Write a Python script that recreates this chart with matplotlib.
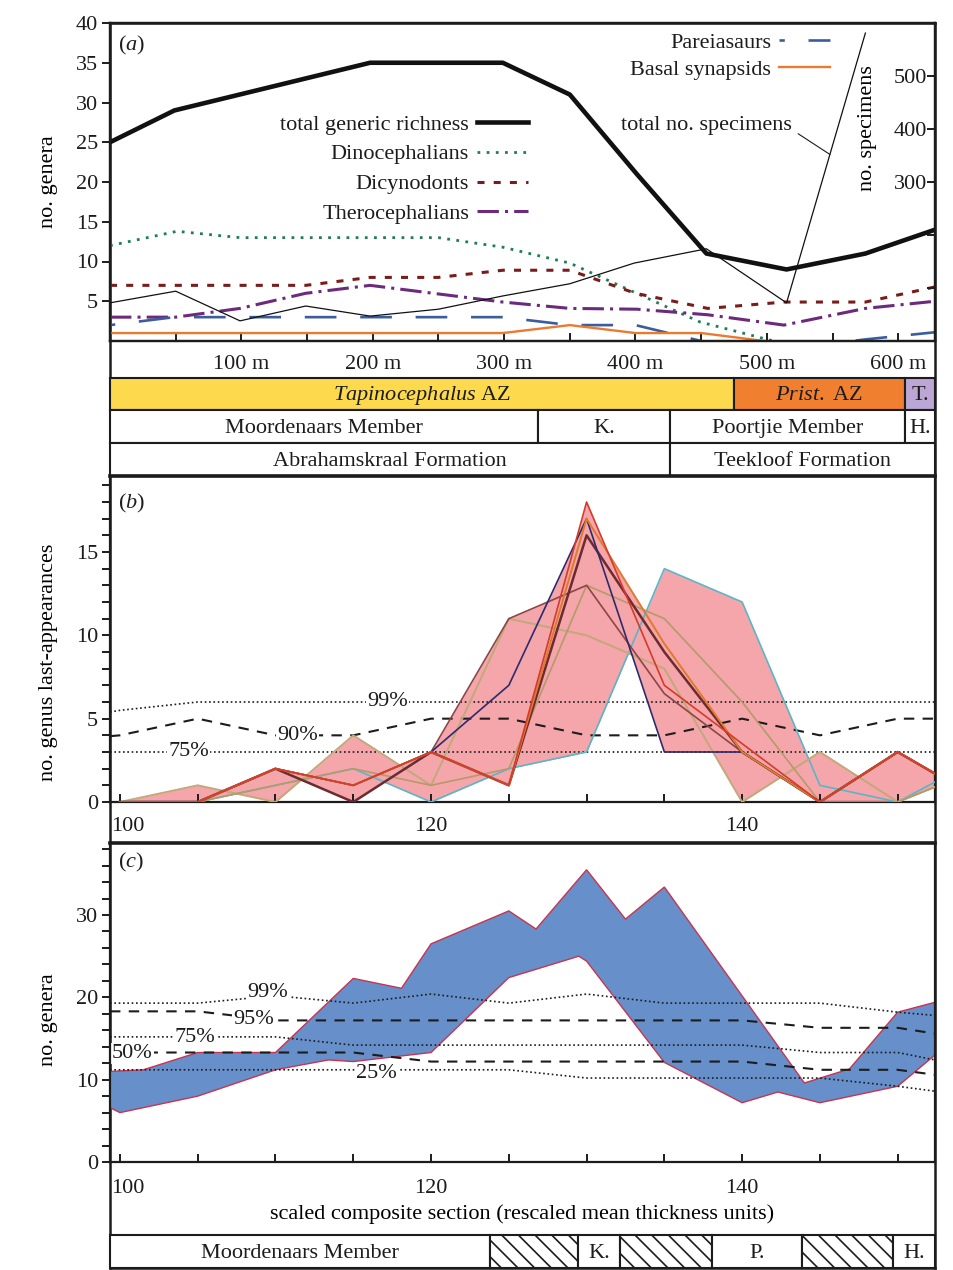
import numpy as np
import matplotlib
matplotlib.use('Agg')
import matplotlib.pyplot as plt
from matplotlib.transforms import ScaledTranslation

INK = '#1c1c1c'
FS = 16
plt.rcParams['font.family'] = ['Liberation Serif', 'DejaVu Serif']
plt.rcParams['mathtext.fontset'] = 'custom'
plt.rcParams['mathtext.rm'] = 'Liberation Serif'
plt.rcParams['mathtext.it'] = 'Liberation Serif:italic'
plt.rcParams['font.size'] = FS
plt.rcParams['text.color'] = INK
plt.rcParams['axes.edgecolor'] = INK
plt.rcParams['axes.linewidth'] = 1.6
plt.rcParams['xtick.color'] = INK
plt.rcParams['ytick.color'] = INK
plt.rcParams['hatch.linewidth'] = 1.2
plt.rcParams['hatch.color'] = INK

# ---------------- (a) richness through the section (metres) ----------------
rich_x = [0, 49, 198, 299, 350, 401, 454, 515, 575, 628]
rich_y = [25, 29, 35, 35, 31, 21, 11, 9, 11, 14]
dino_x = [0, 51, 99, 250, 299, 350, 449, 505]
dino_y = [12, 13.8, 13, 13, 11.8, 9.8, 2.4, 0]
dicy_x = [0, 149, 198, 250, 299, 350, 400, 455, 513, 575, 628]
dicy_y = [7, 7, 8, 8, 8.9, 8.9, 6, 4.1, 4.9, 4.9, 6.8]
ther_x = [0, 50, 99, 149, 198, 299, 350, 401, 455, 513, 575, 628]
ther_y = [3, 3, 4.1, 6, 7, 4.9, 4.1, 4, 3.3, 2, 4.1, 5]
pare_x = [0, 49, 299, 350, 400, 455, 515, 575, 628]
pare_y = [2, 3, 3, 2, 2, -0.2, -1, 0.2, 1.1]
basal_x = [0, 299, 350, 400, 450, 498]
basal_y = [1, 1, 2, 1, 1, 0]
spec_x = [0, 50, 99, 149, 198, 250, 299, 350, 399, 454, 515, 575]
spec_y = [72, 94, 38, 66, 47, 60, 85, 108, 147, 174, 72, 581]

az_edges = [0, 475, 605, 628]
az_names = [r'$\it{Tapinocephalus}$ AZ', r'$\it{Prist.}\ \mathrm{AZ}$', 'T.']
az_colors = ['#fdd94e', '#f08030', '#bba6d6']
mem_edges = [0, 326, 426, 605, 628]
mem_names = ['Moordenaars Member', 'K.', 'Poortjie Member', 'H.']
form_edges = [0, 426, 628]
form_names = ['Abrahamskraal Formation', 'Teekloof Formation']

# ---------------- (b) last appearances (rescaled units) ----------------
b_x = [100, 105, 110, 115, 120, 125, 130, 135, 140, 145, 150, 152.4]
b_series = {
    'cyan':   ([0, 0, 1, 2, 0, 2, 3, 14, 12, 1, 0, 1.2], '#5bb5c8', 1.2),
    'tanA':   ([0, 1, 0, 4, 1, 11, 10, 8, 0, 3, 0, 0.9], '#c2a87a', 1.4),
    'tanB':   ([0, 0, 1, 2, 1, 2, 13, 11, 6, 0, 0, 0.9], '#b59a6a', 1.2),
    'brown':  ([0, 0, 2, 1, 3, 11, 13, 6.5, 3, 0, 3, 1.7], '#8c4646', 1.2),
    'maroon': ([0, 0, 2, 0, 3, 1, 16, 9, 3, 0, 3, 1.7], '#6b2b30', 1.8),
    'navy':   ([0, 0, 2, 1, 3, 7, 17, 3, 3, 0, 3, 1.7], '#2e2a6e', 1.2),
    'orange': ([0, 0, 2, 1, 3, 1, 17, 9.5, 3, 0, 3, 1.7], '#e07a2c', 1.4),
    'red':    ([0, 0, 2, 1, 3, 1, 18, 7, 3.5, 0, 3, 1.7], '#d63a2a', 1.2),
}
b_pct_x = [99.36, 100, 105, 110, 115, 120, 125, 130, 135, 140, 145, 150, 152.4]
b_p99 = [5.4, 5.5, 6, 6, 6, 6, 6, 6, 6, 6, 6, 6, 6]
b_p90 = [3.95, 4, 5, 4, 4, 5, 5, 4, 4, 5, 4, 5, 5]
b_p75 = [3] * 13

# ---------------- (c) richness (rescaled units) ----------------
up_x = [99.36, 101.5, 105, 110, 115, 118.1, 120, 125, 126.75, 130, 132.5, 135, 144, 146.9, 150, 152.4]
up_y = [11, 11.2, 13.3, 13.3, 22.3, 21.1, 26.5, 30.5, 28.3, 35.5, 29.5, 33.4, 9.6, 11.3, 18.2, 19.4]
lo_x = [99.36, 100, 105, 110, 113.4, 115, 120, 125, 129.5, 130, 135, 140, 142.3, 145, 150, 152.4]
lo_y = [6.6, 6.0, 8.0, 11.2, 12.4, 12.2, 13.3, 22.4, 25, 24.4, 12.1, 7.2, 8.5, 7.2, 9.2, 13.0]
c_pct_x = [99.36, 100, 105, 110, 115, 120, 125, 130, 135, 140, 145, 150, 152.4]
c_p99 = [19.3, 19.3, 19.3, 20.2, 19.3, 20.4, 19.3, 20.4, 19.3, 19.3, 19.3, 18.2, 17.8]
c_p95 = [18.3, 18.3, 18.3, 17.2, 17.2, 17.2, 17.2, 17.2, 17.2, 17.2, 16.3, 16.3, 15.6]
c_p75 = [15.2, 15.2, 15.2, 15.2, 14.2, 14.2, 14.2, 14.2, 14.2, 14.2, 13.3, 13.3, 12.4]
c_p50 = [13.3, 13.3, 13.3, 13.3, 13.3, 12.2, 12.2, 12.2, 12.2, 12.2, 11.2, 11.2, 10.6]
c_p25 = [11.2, 11.2, 11.2, 11.2, 11.2, 11.2, 11.2, 10.2, 10.2, 10.2, 10.2, 9.2, 8.6]

low_edges = [99.36, 123.8, 129.45, 132.15, 138.07, 143.86, 149.7, 152.4]
low_names = ['Moordenaars Member', '', 'K.', '', 'P.', '', 'H.']
low_hatch = [None, '\\\\', None, '\\\\', None, '\\\\', None]

W, H = 954, 1270
fig = plt.figure(figsize=(W / 100, H / 100), dpi=100)


def add_ax(x0, y0, x1, y1):
    ax = fig.add_axes([x0 / W, 1 - y1 / H, (x1 - x0) / W, (y1 - y0) / H])
    ax.patch.set_visible(False)
    return ax


def strata(ax, edges, names, colors=None, hatches=None, xlim=None):
    for i, name in enumerate(names):
        fc = colors[i] if colors else 'white'
        hatch = hatches[i] if hatches else None
        ax.barh(0.5, edges[i + 1] - edges[i], left=edges[i], height=1, color=fc,
                edgecolor=INK, linewidth=1.5, hatch=hatch, clip_on=False)
        if name:
            ax.text((edges[i] + edges[i + 1]) / 2, 0.45, name, ha='center', va='center')
    ax.set_xlim(xlim)
    ax.set_ylim(0, 1)
    ax.axis('off')


dotted = (0, (1, 1.6))
dashed = (0, (5, 4))

# outer frame
frame = add_ax(110, 23, 935, 1268)
frame.set_xticks([])
frame.set_yticks([])
for s in frame.spines.values():
    s.set_linewidth(1.8)

# ================= panel (a) =================
XA = (0, 628)
ax_a = add_ax(110, 23, 935, 341)
h_rich, = ax_a.plot(rich_x, rich_y, color='#111111', lw=3.3, label='total generic richness')
h_dino, = ax_a.plot(dino_x, dino_y, color='#1f7d52', lw=2.0, linestyle=(0, (1, 2.3)),
                    label='Dinocephalians')
h_dicy, = ax_a.plot(dicy_x, dicy_y, color='#7a1c1c', lw=2.2, linestyle=(0, (2.3, 3)),
                    label='Dicynodonts')
h_ther, = ax_a.plot(ther_x, ther_y, color='#6c2a7c', lw=2.2, linestyle=(0, (7, 2, 1, 2)),
                    label='Therocephalians')
h_pare, = ax_a.plot(pare_x, pare_y, color='#3b5c9e', lw=1.9, linestyle=(10, (12, 9)),
                    label='Pareiasaurs')
h_basal, = ax_a.plot(basal_x, basal_y, color='#ea7a30', lw=1.7, label='Basal synapsids')
ax_a.set_xlim(XA)
ax_a.set_ylim(0, 40)
ax_a.set_yticks(np.arange(5, 41, 5))
ax_a.tick_params(axis='y', direction='out', length=5.5, width=1.4, pad=3, labelsize=FS)
ax_a.set_xticks(np.arange(50, 601, 50))
ax_a.set_xticklabels([f'{v} m' if v % 100 == 0 else '' for v in range(50, 601, 50)])
ax_a.tick_params(axis='x', direction='in', length=6, width=1.4, pad=10, labelsize=FS)
ax_a.set_ylabel('no. genera', fontsize=FS)
ax_a.yaxis.set_label_coords(-0.063, 0.5)
ax_a.text(0.01, 0.93, r'($\it{a}$)', transform=ax_a.transAxes, ha='left', va='center')

leg1 = ax_a.legend(handles=[h_rich, h_dino, h_dicy, h_ther], loc='upper right',
                   bbox_to_anchor=((528 - 110) / 825, (341 - 114) / 318),
                   markerfirst=False, frameon=False, handlelength=2.3, handletextpad=0.35,
                   labelspacing=0.42, borderpad=0, borderaxespad=0, fontsize=FS)
ax_a.add_artist(leg1)
ax_a.legend(handles=[h_pare, h_basal], loc='upper right',
            bbox_to_anchor=((830 - 110) / 825, (341 - 32) / 318),
            markerfirst=False, frameon=False, handlelength=2.3, handletextpad=0.35,
            labelspacing=0.3, borderpad=0, borderaxespad=0, fontsize=FS)

ax2 = ax_a.twinx()
ax2.plot(spec_x, spec_y, color='#111111', lw=0.9)
ax2.set_ylim(0, 600)
ax2.set_xlim(XA)
ax2.set_yticks([100, 200, 300, 400, 500])
ax2.set_yticklabels(['', '', '300', '400', '500'])
ax2.tick_params(axis='y', direction='in', length=6, width=1.4, pad=-5.5, labelsize=FS)
for t in ax2.get_yticklabels():
    t.set_horizontalalignment('right')
ax2.set_ylabel('no. specimens', fontsize=FS)
ax2.yaxis.set_label_coords(0.907, 0.67)
ax2.annotate('total no. specimens', xy=(548, 352), xytext=(454, 406), textcoords='data',
             ha='center', va='center', fontsize=FS,
             arrowprops=dict(arrowstyle='-', lw=0.8, color=INK, relpos=(1.0, 0.3),
                             shrinkA=3, shrinkB=0))

# strata bars
strata(add_ax(110, 378, 935, 410), az_edges, az_names, colors=az_colors, xlim=XA)
strata(add_ax(110, 410, 935, 443), mem_edges, mem_names, xlim=XA)
strata(add_ax(110, 443, 935, 476), form_edges, form_names, xlim=XA)

XB = (99.36, 152.4)
shift = ScaledTranslation(0.08, 0, fig.dpi_scale_trans)

# ================= panel (b) =================
ax_b = add_ax(110, 476, 935, 802)
xf = np.linspace(b_x[0], b_x[-1], 2000)
curves = np.array([np.interp(xf, b_x, v[0]) for v in b_series.values()])
ax_b.fill_between(xf, curves.min(axis=0), curves.max(axis=0), color='#f4a6aa', lw=0, zorder=1)
ax_b.plot(b_pct_x, b_p99, color=INK, lw=1.2, linestyle=dotted, zorder=2)
ax_b.plot(b_pct_x, b_p90, color=INK, lw=1.5, linestyle=dashed, zorder=2)
ax_b.plot(b_pct_x, b_p75, color=INK, lw=1.2, linestyle=dotted, zorder=2)
for vals, col, lw in b_series.values():
    ax_b.plot(b_x, vals, color=col, lw=lw, zorder=3)
box = dict(fc='white', ec='none', pad=1)
ax_b.text(117.2, 6, '99%', ha='center', va='center', bbox=box, zorder=2.5)
ax_b.text(111.4, 4, '90%', ha='center', va='center', bbox=box, zorder=2.5)
ax_b.text(104.4, 3, '75%', ha='center', va='center', bbox=box, zorder=2.5)
ax_b.set_xlim(XB)
ax_b.set_ylim(0, 19.56)
ax_b.set_yticks([0, 5, 10, 15])
ax_b.set_yticks(np.arange(0, 20, 1), minor=True)
ax_b.tick_params(axis='y', which='both', direction='out', length=5.5, width=1.4, pad=3, labelsize=FS)
ax_b.set_xticks(np.arange(100, 151, 5))
ax_b.set_xticklabels(['100', '', '', '', '120', '', '', '', '140', '', ''])
ax_b.tick_params(axis='x', direction='in', length=6, width=1.4, pad=11, labelsize=FS)
ax_b.spines['top'].set_linewidth(2.6)
ax_b.set_ylabel('no. genus last-appearances', fontsize=FS)
ax_b.yaxis.set_label_coords(-0.063, 0.43)
ax_b.text(0.01, 0.917, r'($\it{b}$)', transform=ax_b.transAxes, ha='left', va='center')
lab = ax_b.get_xticklabels()[0]
lab.set_transform(lab.get_transform() + shift)

# ================= panel (c) =================
ax_c = add_ax(110, 843, 935, 1162)
ax_c.fill(np.r_[up_x, lo_x[::-1]], np.r_[up_y, lo_y[::-1]], facecolor='#678fca',
          edgecolor='#c8344e', lw=1.0, zorder=1)
ax_c.plot(c_pct_x, c_p99, color=INK, lw=1.2, linestyle=dotted, zorder=2)
ax_c.plot(c_pct_x, c_p95, color=INK, lw=1.5, linestyle=dashed, zorder=2)
ax_c.plot(c_pct_x, c_p75, color=INK, lw=1.2, linestyle=dotted, zorder=2)
ax_c.plot(c_pct_x, c_p50, color=INK, lw=1.5, linestyle=dashed, zorder=2)
ax_c.plot(c_pct_x, c_p25, color=INK, lw=1.2, linestyle=dotted, zorder=2)
ax_c.text(109.5, 20.6, '99%', ha='center', va='center', bbox=box, zorder=2.5)
ax_c.text(108.6, 17.3, '95%', ha='center', va='center', bbox=box, zorder=2.5)
ax_c.text(104.8, 15.1, '75%', ha='center', va='center', bbox=box, zorder=2.5)
ax_c.text(100.8, 13.2, '50%', ha='center', va='center', bbox=box, zorder=2.5)
ax_c.text(116.5, 10.7, '25%', ha='center', va='center', bbox=box, zorder=2.5)
ax_c.set_xlim(XB)
ax_c.set_ylim(0, 38.75)
ax_c.set_yticks([0, 10, 20, 30])
ax_c.set_yticks(np.arange(0, 39, 2), minor=True)
ax_c.tick_params(axis='y', which='both', direction='out', length=5.5, width=1.4, pad=3, labelsize=FS)
ax_c.set_xticks(np.arange(100, 151, 5))
ax_c.set_xticklabels(['100', '', '', '', '120', '', '', '', '140', '', ''])
ax_c.tick_params(axis='x', direction='in', length=6, width=1.4, pad=12.5, labelsize=FS)
ax_c.spines['top'].set_linewidth(2.6)
ax_c.set_xlabel('scaled composite section (rescaled mean thickness units)', fontsize=FS, labelpad=4)
ax_c.set_ylabel('no. genera', fontsize=FS)
ax_c.yaxis.set_label_coords(-0.063, 0.445)
ax_c.text(0.01, 0.94, r'($\it{c}$)', transform=ax_c.transAxes, ha='left', va='center')
lab = ax_c.get_xticklabels()[0]
lab.set_transform(lab.get_transform() + shift)

strata(add_ax(110, 1235, 935, 1268), low_edges, low_names, hatches=low_hatch, xlim=XB)

fig.savefig('out.png', dpi=100, facecolor='white')
